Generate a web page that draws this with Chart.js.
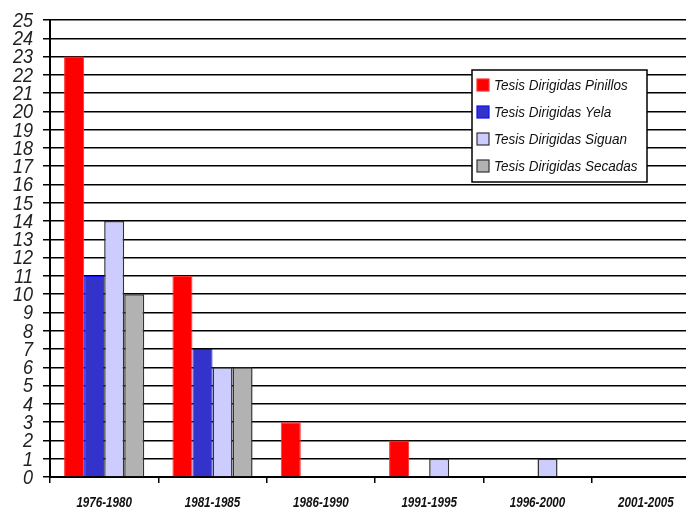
<!DOCTYPE html>
<html>
<head>
    <title>Tesis Dirigidas</title>
    <script src="https://cdn.jsdelivr.net/npm/chart.js"></script>
    <style>
        html, body { margin: 0; padding: 0; background: #fff; overflow: hidden; }
        .wrap { position: relative; width: 700px; height: 510px; }
    </style>
</head>
<body>
    <div class="wrap">
        <canvas id="tesisChart"></canvas>
    </div>

    <script>
        const periods = ['1976-1980', '1981-1985', '1986-1990', '1991-1995', '1996-2000', '2001-2005'];
        const pinillos = [23, 11, 3, 2, 0, 0];
        const yela = [11, 7, 0, 0, 0, 0];
        const siguan = [14, 6, 0, 1, 1, 0];
        const secadas = [10, 6, 0, 0, 0, 0];

        const fontFamily = '"Liberation Sans", Arial, sans-serif';

        // draw text squeezed horizontally (the original uses a condensed face)
        function narrowText(c, text, x, y, align, sx) {
            c.save();
            c.translate(x, y);
            c.scale(sx, 1);
            c.textAlign = align;
            c.fillText(text, 0, 0);
            c.restore();
        }

        // axis labels, positioned by the chart's own scales
        const narrowLabels = {
            id: 'narrowLabels',
            afterDraw(chart) {
                const c = chart.ctx;
                const xs = chart.scales.x, ys = chart.scales.y;
                c.save();
                c.textBaseline = 'middle';
                c.fillStyle = '#222';
                c.font = 'italic 21px ' + fontFamily;
                ys.ticks.forEach((t, i) => {
                    narrowText(c, String(t.value), ys.right - 17, ys.getPixelForTick(i) + 1, 'right', 0.86);
                });
                c.fillStyle = '#111';
                c.font = 'italic bold 14px ' + fontFamily;
                xs.ticks.forEach((t, i) => {
                    narrowText(c, periods[t.value], xs.getPixelForTick(i), xs.top + 26, 'center', 0.83);
                });
                c.restore();
            }
        };

        // legend drawn as a boxed panel inside the plot
        const boxLegend = {
            id: 'boxLegend',
            afterDraw(chart) {
                const c = chart.ctx;
                const x = 472, y = 70, w = 175, h = 112;
                c.save();
                c.fillStyle = '#fff';
                c.fillRect(x, y, w, h);
                c.strokeStyle = '#000';
                c.lineWidth = 1.5;
                c.strokeRect(x, y, w, h);
                c.font = 'italic 15px ' + fontFamily;
                c.textBaseline = 'middle';
                chart.data.datasets.forEach((ds, i) => {
                    const cy = y + 15 + i * 27;
                    c.fillStyle = ds.backgroundColor;
                    c.fillRect(x + 5, cy - 6, 12, 12);
                    c.strokeStyle = ds.borderColor;
                    c.lineWidth = 1.2;
                    c.strokeRect(x + 5, cy - 6, 12, 12);
                    c.fillStyle = '#111';
                    narrowText(c, ds.label, x + 22, cy + 1, 'left', 0.9);
                });
                c.restore();
            }
        };

        const ctx = document.getElementById('tesisChart').getContext('2d');
        new Chart(ctx, {
            type: 'bar',
            data: {
                labels: periods,
                datasets: [
                    { label: 'Tesis Dirigidas Pinillos', data: pinillos, backgroundColor: '#ff0000', borderColor: '#ff3030', borderWidth: 1 },
                    { label: 'Tesis Dirigidas Yela', data: yela, backgroundColor: '#3333cc', borderColor: '#1010ee', borderWidth: 1 },
                    { label: 'Tesis Dirigidas Siguan', data: siguan, backgroundColor: '#ccccff', borderColor: '#333333', borderWidth: 1.5 },
                    { label: 'Tesis Dirigidas Secadas', data: secadas, backgroundColor: '#b2b2b2', borderColor: '#333333', borderWidth: 1.5 }
                ]
            },
            options: {
                responsive: true,
                maintainAspectRatio: false,
                animation: false,
                layout: { padding: { top: 20, left: 0, right: 0, bottom: 0 } },
                categoryPercentage: 0.74,
                barPercentage: 1.0,
                plugins: {
                    legend: { display: false },
                    tooltip: { enabled: false }
                },
                scales: {
                    x: {
                        afterFit(scale) { scale.height = 33; },
                        grid: { display: true, drawOnChartArea: false, color: '#000', lineWidth: 1.5, tickLength: 6 },
                        border: { color: '#000', width: 2 },
                        ticks: { display: false, autoSkip: false }
                    },
                    y: {
                        min: 0,
                        max: 25,
                        afterFit(scale) { scale.width = 50; },
                        grid: { color: '#000', lineWidth: 1.5, tickLength: 7 },
                        border: { color: '#000', width: 2 },
                        ticks: { display: false, autoSkip: false, stepSize: 1 }
                    }
                }
            },
            plugins: [narrowLabels, boxLegend]
        });
    </script>
</body>
</html>
